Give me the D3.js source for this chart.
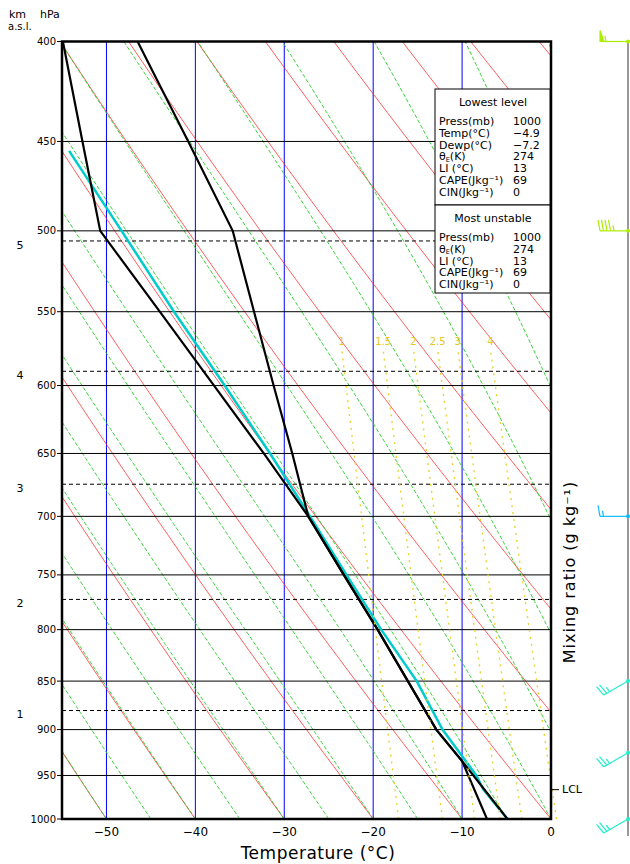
<!DOCTYPE html>
<html>
<head>
<meta charset="utf-8">
<script src="https://cdn.jsdelivr.net/npm/d3@7"></script>
<style>
  body { margin: 0; background: #fff; }
  text { font-family: "DejaVu Sans", sans-serif; fill: #000; }
</style>
</head>
<body>
<svg id="chart" width="630" height="864"></svg>
<script>
// ---- data ----
var isobars = [450, 500, 550, 600, 650, 700, 750, 800, 850, 900, 950];
var pLabels = [400, 450, 500, 550, 600, 650, 700, 750, 800, 850, 900, 950, 1000];
var isotherms = [-50, -40, -30, -20, -10];
var tempTicks = [-50, -40, -30, -20, -10, 0];
var dryTheta = [-50, -40, -30, -20, -10, 0, 10, 20, 30, 40, 50, 60, 70, 80];     // theta (C at 1000 hPa)
var moistThetaW = [-50, -45, -40, -35, -30, -25, -20, -15, -10, -5, 0, 5, 10, 15, 20, 25, 30, 35, 40];
var mixRatios = [1, 1.5, 2, 2.5, 3, 4];
var mixLabels = ["1", "1.5", "2", "2.5", "3", "4"];
var heightKm = [1, 2, 3, 4, 5];
var heightP = [880, 772, 674, 590, 506];

var tempP = [1000, 934, 900, 850, 800, 750, 700, 650, 600, 550, 500, 450, 400];
var tempC = [-4.9, -10.0, -12.9, -16.1, -19.5, -23.3, -27.3, -29.1, -31.2, -33.4, -35.8, -40.8, -46.5];
var dewP = [1000, 934, 900, 850, 800, 750, 700, 650, 600, 550, 500, 450, 400];
var dewC = [-7.2, -10.0, -12.9, -16.1, -19.5, -23.3, -27.3, -32.3, -37.9, -44.0, -50.7, -52.7, -54.9];
var parcelP = [1000, 966, 950, 900, 850, 800, 750, 700, 650, 600, 550, 500, 455];
var parcelC = [-4.9, -7.6, -8.4, -12.2, -15.1, -19.1, -23.0, -27.1, -31.6, -36.7, -42.4, -48.3, -54.2];
var lclP = 966;

var windP = [400, 500, 700, 850, 925, 1000];
var windDir = [270, 270, 270, 240, 240, 240];
var windKt = [55, 45, 15, 25, 25, 25];
var windCol = ["#aaee00", "#aaee00", "#11bbff", "#22eecc", "#22eecc", "#22eecc"];

var lowestLabels = ["Press(mb)", "Temp(°C)", "Dewp(°C)", "θE(K)", "LI (°C)", "CAPE(Jkg⁻¹)", "CIN(Jkg⁻¹)"];
var lowestValues = ["1000", "−4.9", "−7.2", "274", "13", "69", "0"];
var unstableLabels = ["Press(mb)", "θE(K)", "LI (°C)", "CAPE(Jkg⁻¹)", "CIN(Jkg⁻¹)"];
var unstableValues = ["1000", "274", "13", "69", "0"];

// ---- layout ----
var svg = d3.select("#chart");
var pl = 62, pr = 551, pt = 41.5, pb = 819;
var x = d3.scaleLinear().domain([-55, 0]).range([pl, pr]);
var y = d3.scaleLog().domain([1000, 400]).range([pb, pt]);

svg.append("defs").append("clipPath").attr("id", "plot")
  .append("rect").attr("x", pl).attr("y", pt)
  .attr("width", pr - pl).attr("height", pb - pt);

var g = svg.append("g").attr("clip-path", "url(#plot)");
var line = d3.line().x(function(d) { return x(d[1]); }).y(function(d) { return y(d[0]); });

// pressure steps used to trace the background curves
var steps = d3.range(1000, 399, -5);

// isotherms
g.selectAll(".iso").data(isotherms).enter().append("line")
  .attr("x1", function(d) { return x(d); }).attr("x2", function(d) { return x(d); })
  .attr("y1", pt).attr("y2", pb)
  .style("stroke", "#0000ff").style("stroke-width", 1);

// dry adiabats
dryTheta.forEach(function(th) {
  var pts = steps.map(function(p) { return [p, (th + 273.15) * Math.pow(p / 1000, 0.2857) - 273.15]; });
  g.append("path").attr("d", line(pts))
    .style("fill", "none").style("stroke", "#ff2a2a").style("stroke-width", 0.9).style("opacity", 0.85);
});

// moist (pseudo) adiabats
function dTdp(p, T) {
  var es = 6.112 * Math.exp(17.67 * (T - 273.15) / (T - 29.65));
  var rs = 0.622 * es / (p - es);
  var Rd = 287.04, Cp = 1005.7, Lv = 2.501e6;
  return (Rd * T + Lv * rs) / (p * (Cp + Lv * Lv * rs * 0.622 / (Rd * T * T)));
}
moistThetaW.forEach(function(tw) {
  var T = tw + 273.15, pts = [[1000, tw]];
  for (var p = 1000; p > 400; p -= 2) {
    var k1 = dTdp(p, T);
    var k2 = dTdp(p - 1, T - k1);
    T = T - 2 * k2;
    pts.push([p - 2, T - 273.15]);
  }
  g.append("path").attr("d", line(pts))
    .style("fill", "none").style("stroke", "#22cc22").style("stroke-width", 0.9)
    .style("stroke-dasharray", "4,2");
});

// isobars and height lines
g.selectAll(".isobar").data(isobars).enter().append("line")
  .attr("x1", pl).attr("x2", pr)
  .attr("y1", function(d) { return y(d); }).attr("y2", function(d) { return y(d); })
  .style("stroke", "#000").style("stroke-width", 1);
g.selectAll(".hgt").data(heightP).enter().append("line")
  .attr("x1", pl).attr("x2", pr)
  .attr("y1", function(d) { return y(d); }).attr("y2", function(d) { return y(d); })
  .style("stroke", "#000").style("stroke-width", 1).style("stroke-dasharray", "4,3");

// mixing ratio lines
function satT(w, p) {
  var es = (w / 1000) * p / (0.622 + w / 1000);
  var l = Math.log(es / 6.112);
  return 243.5 * l / (17.67 - l);
}
var mixSteps = d3.range(1000, 574, -25);
mixRatios.forEach(function(w, i) {
  var pts = mixSteps.map(function(p) { return [p, satT(w, p)]; });
  svg.append("path").attr("d", line(pts))
    .style("fill", "none").style("stroke", "#e8d430").style("stroke-width", 1.4)
    .style("stroke-dasharray", "2,5");
  svg.append("text").attr("x", x(satT(w, 575))).attr("y", y(575) - 4)
    .attr("text-anchor", "middle").style("font-size", "10px").style("fill", "#e6c820")
    .text(mixLabels[i]);
});

// sounding
g.append("path").attr("d", line(d3.zip(parcelP, parcelC)))
  .style("fill", "none").style("stroke", "#00cccc").style("stroke-width", 2.5);
g.append("path").attr("d", line(d3.zip(dewP, dewC)))
  .style("fill", "none").style("stroke", "#000").style("stroke-width", 2.2);
g.append("path").attr("d", line(d3.zip(tempP, tempC)))
  .style("fill", "none").style("stroke", "#000").style("stroke-width", 2.2);

// frame
svg.append("rect").attr("x", pl).attr("y", pt)
  .attr("width", pr - pl).attr("height", pb - pt)
  .style("fill", "none").style("stroke", "#000").style("stroke-width", 2.5);

// left axis: pressure
pLabels.forEach(function(p) {
  svg.append("line").attr("x1", pl - 5).attr("x2", pl).attr("y1", y(p)).attr("y2", y(p))
    .style("stroke", "#000").style("stroke-width", 1);
  svg.append("text").attr("x", pl - 6).attr("y", y(p)).attr("dy", "0.35em")
    .attr("text-anchor", "end").style("font-size", "10px").text(p);
});
heightKm.forEach(function(k, i) {
  svg.append("text").attr("x", 20).attr("y", y(heightP[i]) + 4).attr("dy", "0.35em")
    .attr("text-anchor", "middle").style("font-size", "11px").text(k);
});
svg.append("text").attr("x", 9).attr("y", 18).style("font-size", "11px").text("km");
svg.append("text").attr("x", 40).attr("y", 18).style("font-size", "11px").text("hPa");
svg.append("text").attr("x", 8).attr("y", 30).style("font-size", "10px").text("a.s.l.");

// bottom axis: temperature
tempTicks.forEach(function(t) {
  svg.append("text").attr("x", x(t)).attr("y", 836).attr("text-anchor", "middle")
    .style("font-size", "12px").text(t < 0 ? "−" + Math.abs(t) : t);
});
svg.append("text").attr("x", 318).attr("y", 859).attr("text-anchor", "middle")
  .style("font-size", "17px").style("letter-spacing", "0.5px").text("Temperature (°C)");

// right: mixing ratio title and LCL
svg.append("text").attr("transform", "translate(575,572) rotate(-90)").attr("text-anchor", "middle")
  .style("font-size", "16px").style("letter-spacing", "1px").text("Mixing ratio (g kg⁻¹)");
svg.append("line").attr("x1", pr).attr("x2", pr + 8).attr("y1", y(lclP)).attr("y2", y(lclP))
  .style("stroke", "#000").style("stroke-width", 1);
svg.append("text").attr("x", pr + 11).attr("y", y(lclP)).attr("dy", "0.35em")
  .style("font-size", "11px").text("LCL");

// legend boxes
function writeLabel(sel, s) {
  if (s.indexOf("θE") === 0) {
    sel.text("θ");
    sel.append("tspan").attr("dy", "1.5").style("font-size", "6.5px").text("E");
    sel.append("tspan").attr("dy", "-1.5").text(s.slice(2));
  } else sel.text(s);
}
function legend(y0, y1, title, labels, values) {
  svg.append("rect").attr("x", 435).attr("y", y0).attr("width", 115).attr("height", y1 - y0)
    .style("fill", "#fff").style("stroke", "#000").style("stroke-width", 1);
  svg.append("text").attr("x", 493).attr("y", y0 + 17).attr("text-anchor", "middle")
    .style("font-size", "11px").text(title);
  labels.forEach(function(l, i) {
    var ty = y0 + 36 + i * 11.8;
    writeLabel(svg.append("text").attr("x", 439).attr("y", ty).style("font-size", "11px"), l);
    svg.append("text").attr("x", 513).attr("y", ty).style("font-size", "11px").text(values[i]);
  });
}
legend(89, 205, "Lowest level", lowestLabels, lowestValues);
legend(205, 293, "Most unstable", unstableLabels, unstableValues);

// wind barbs
var axX = 628;
svg.append("line").attr("x1", axX).attr("x2", axX).attr("y1", pt).attr("y2", 836)
  .style("stroke", "#555").style("stroke-width", 1.2);
windP.forEach(function(p, i) {
  var yy = y(p), rad = windDir[i] * Math.PI / 180;
  var sx = Math.sin(rad), sy = -Math.cos(rad);   // toward where wind comes from
  var px = -sy, py = sx;                          // perpendicular (barb side)
  var L = 28, col = windCol[i];
  var bg = svg.append("g").style("stroke", col).style("fill", col).style("stroke-width", 1.2);
  bg.append("circle").attr("cx", axX).attr("cy", yy).attr("r", 2).style("stroke", "none");
  bg.append("line").attr("x1", axX).attr("y1", yy).attr("x2", axX + sx * L).attr("y2", yy + sy * L);
  var spd = windKt[i], pos = L;
  while (spd >= 50) {
    var ax = axX + sx * pos, ay = yy + sy * pos;
    var bx = axX + sx * (pos - 4), by = yy + sy * (pos - 4);
    bg.append("path").attr("d", "M" + ax + "," + ay + "L" + (ax + px * 11) + "," + (ay + py * 11) +
      "L" + bx + "," + by + "Z");
    pos -= 6; spd -= 50;
  }
  while (spd >= 10) {
    var cx = axX + sx * pos, cy = yy + sy * pos;
    bg.append("line").attr("x1", cx).attr("y1", cy)
      .attr("x2", cx + px * 11 + sx * 2).attr("y2", cy + py * 11 + sy * 2);
    pos -= 3.5; spd -= 10;
  }
  if (spd >= 5) {
    var hx = axX + sx * pos, hy = yy + sy * pos;
    bg.append("line").attr("x1", hx).attr("y1", hy)
      .attr("x2", hx + px * 5.5 + sx * 1).attr("y2", hy + py * 5.5 + sy * 1);
  }
});
</script>
</body>
</html>
